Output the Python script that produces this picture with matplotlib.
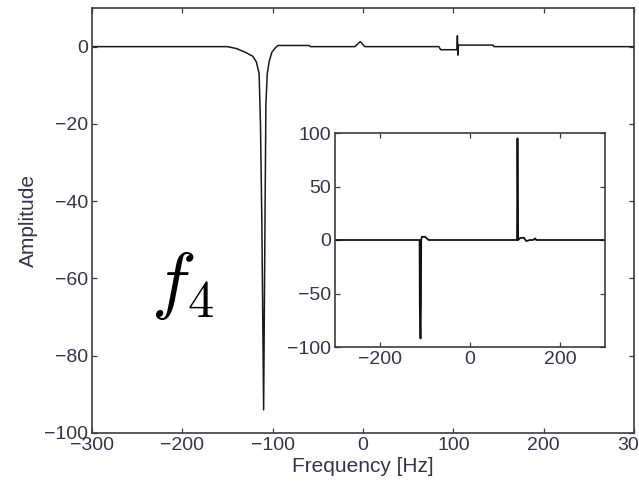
import matplotlib
matplotlib.use("Agg")
import matplotlib.pyplot as plt

plt.rcParams['font.family'] = ['Liberation Sans', 'DejaVu Sans']
plt.rcParams['mathtext.fontset'] = 'cm'

# Main spectrum (frequency in Hz, amplitude)
main_freq = [-300, -150, -140, -130, -122, -118, -115, -113.5, -112, -110, -108.5, -107.5,
             -106, -104, -101, -97, -94, -60, -58, -9, -3, 2, 84, 86, 103.5, 104,
             104.5, 105, 105.5, 106, 144, 145, 300]
main_amp = [0, 0, -0.5, -1.5, -2.5, -4, -7, -20, -45, -94, -45, -15,
            -7, -4, -1.5, -0.3, 0.3, 0.3, 0, 0, 1.3, 0, 0, -0.8, -0.8, -0.8,
            2.8, -2.2, 0.4, 0.4, 0.4, 0, 0]

# Inset spectrum
inset_freq = [-300, -112, -111.5, -110, -109, -108.5, -107, -100, -92, -90, 103, 104.5,
              105.5, 107, 112, 120, 125, 133, 140, 145, 147, 300]
inset_amp = [0, 0, -62, -92, -62, 0, 3, 3, 0, 0, 0, 0,
             95, 0, 2, 2, -1, 0, 0, 1.5, 0, 0]

main_xticks = [-300, -200, -100, 0, 100, 200, 300]
main_yticks = [-100, -80, -60, -40, -20, 0]
inset_xticks = [-200, 0, 200]
inset_yticks = [-100, -50, 0, 50, 100]

W, H = 639, 487
fig = plt.figure(figsize=(W / 100, H / 100), dpi=100)
txt_color = '#34344a'
spine_color = '#3c3c3c'

def px_axes(l, t, r, b):
    return fig.add_axes([l / W, 1 - b / H, (r - l) / W, (b - t) / H])

ax = px_axes(92, 8, 634, 433)
ax.plot(main_freq, main_amp, color='#1a1a1a', lw=1.1)
ax.set_xlim(-300, 300)
ax.set_ylim(-100, 10)
ax.set_xticks(main_xticks)
ax.set_yticks(main_yticks)
ax.set_xlabel('Frequency [Hz]', fontsize=15, color=txt_color, labelpad=2)
ax.set_ylabel('Amplitude', fontsize=15, color=txt_color, labelpad=4)
ax.text(-200, -62, r'$f_4$', fontsize=54, ha='center', va='center', color='black')

ax2 = px_axes(335, 133, 605, 347)
ax2.plot(inset_freq, inset_amp, color='#111111', lw=1.3)
ax2.set_xlim(-300, 300)
ax2.set_ylim(-100, 100)
ax2.set_xticks(inset_xticks)
ax2.set_yticks(inset_yticks)

for a in (ax, ax2):
    a.tick_params(direction='in', length=3.5, width=0.9, top=True, right=True,
                  labelsize=14, labelcolor=txt_color, color=spine_color, pad=3)
    for s in a.spines.values():
        s.set_color(spine_color)
        s.set_linewidth(1.2)
    a.set_facecolor('white')

fig.savefig('out.png', dpi=100)
